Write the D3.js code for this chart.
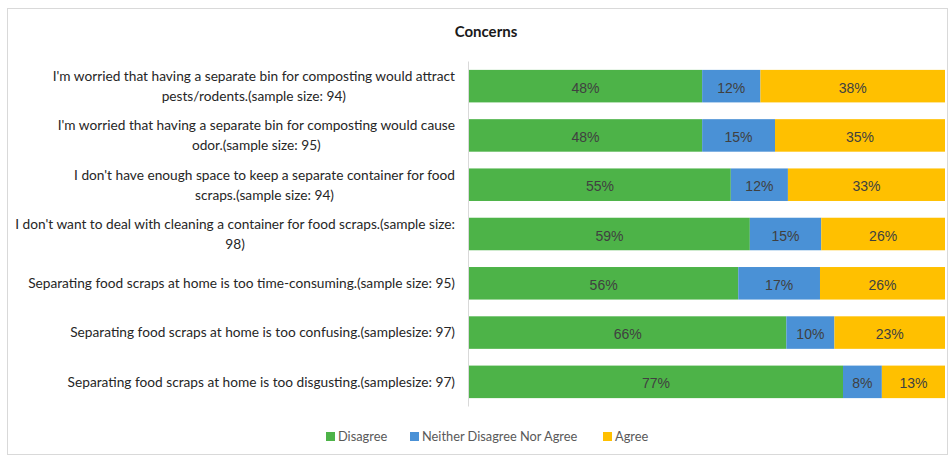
<!DOCTYPE html>
<html>
<head>
<meta charset="utf-8">
<script src="https://cdn.jsdelivr.net/npm/d3@7"></script>
<style>
  html, body { margin: 0; padding: 0; background: #fff; }
  svg { display: block; }
</style>
</head>
<body>
<svg id="chart" width="951" height="459"></svg>
<script>
// Survey statements (each entry is a list of wrapped lines)
const categories = [
  ["I'm worried that having a separate bin for composting would attract", "pests/rodents.(sample size: 94)"],
  ["I'm worried that having a separate bin for composting would cause", "odor.(sample size: 95)"],
  ["I don't have enough space to keep  a separate  container for food", "scraps.(sample size: 94)"],
  ["I don't want to deal with cleaning a container for food scraps.(sample size:", "98)"],
  ["Separating food scraps at home is too time-consuming.(sample size: 95)"],
  ["Separating food scraps at home is too confusing.(samplesize: 97)"],
  ["Separating food scraps at home is too disgusting.(samplesize: 97)"]
];
const seriesNames = ["Disagree", "Neither Disagree  Nor Agree", "Agree"];
const disagree = [48, 48, 55, 59, 56, 66, 77];
const neither  = [12, 15, 12, 15, 17, 10, 8];
const agree    = [38, 35, 33, 26, 26, 23, 13];
const colors = ["#4db348", "#4a91d6", "#ffc000"];

const svg = d3.select("#chart");

// chart frame
svg.append("rect")
  .attr("x", 7.5).attr("y", 8.5).attr("width", 940).attr("height", 446)
  .attr("fill", "#fff").attr("stroke", "#d9d9d9");

svg.append("text")
  .attr("x", 486).attr("y", 32).attr("dy", "0.35em")
  .attr("text-anchor", "middle")
  .attr("font-family", "Lato, 'Open Sans', sans-serif")
  .attr("font-weight", "bold").attr("font-size", 15)
  .attr("fill", "#1a1a1a")
  .text("Concerns");

const rows = categories.map((c, i) => ({
  idx: i, lines: c, d: disagree[i], n: neither[i], a: agree[i]
}));
const keys = ["d", "n", "a"];
const stacked = d3.stack().keys(keys).offset(d3.stackOffsetExpand)(rows);

const x = d3.scaleLinear().domain([0, 1]).range([469, 945]);
const y = d3.scaleBand().domain(d3.range(rows.length)).range([61.5, 406.5]).paddingInner(0.34).paddingOuter(0.17);

// category axis line
svg.append("line")
  .attr("x1", 468.5).attr("x2", 468.5)
  .attr("y1", y.range()[0]).attr("y2", y.range()[1])
  .attr("stroke", "#d9d9d9");

const groups = svg.selectAll("g.series").data(stacked).join("g")
  .attr("class", "series").attr("fill", (s, i) => colors[i]);

groups.selectAll("rect").data(s => s.map(p => ({ p, key: s.key }))).join("rect")
  .attr("x", d => x(d.p[0]))
  .attr("width", d => x(d.p[1]) - x(d.p[0]))
  .attr("y", d => y(d.p.data.idx))
  .attr("height", y.bandwidth());

groups.selectAll("text").data(s => s.map(p => ({ p, key: s.key }))).join("text")
  .attr("x", d => (x(d.p[0]) + x(d.p[1])) / 2)
  .attr("y", d => y(d.p.data.idx) + y.bandwidth() / 2 + 1.5)
  .attr("dy", "0.36em")
  .attr("text-anchor", "middle")
  .attr("font-family", "'Liberation Sans', Arial, sans-serif")
  .attr("font-size", 14)
  .attr("fill", "#404040")
  .text(d => d.p.data[d.key] + "%");

// wrapped category labels, right-aligned block with centred lines
const labelRight = 455;
const lineH = 20;
rows.forEach(r => {
  const cy = y(r.idx) + y.bandwidth() / 2;
  const t = svg.append("text")
    .attr("font-family", "Lato, 'Open Sans', sans-serif")
    .attr("font-size", 13.7)
    .attr("fill", "#262626")
    .attr("text-anchor", "middle");
  const first = t.append("tspan").text(r.lines[0]);
  const w = first.node().getComputedTextLength();
  const cx = labelRight - w / 2;
  const y0 = cy - (r.lines.length - 1) * lineH / 2;
  first.attr("x", cx).attr("y", y0).attr("dy", "0.35em");
  r.lines.slice(1).forEach((ln, k) => {
    t.append("tspan").attr("x", cx).attr("y", y0 + (k + 1) * lineH).attr("dy", "0.35em").text(ln);
  });
});

// legend
const legendX = [326, 410, 603];
const lg = svg.append("g");
seriesNames.forEach((name, i) => {
  lg.append("rect").attr("x", legendX[i]).attr("y", 432).attr("width", 9).attr("height", 9).attr("fill", colors[i]);
  lg.append("text")
    .attr("x", legendX[i] + 12).attr("y", 437).attr("dy", "0.35em")
    .attr("font-family", "Lato, 'Open Sans', sans-serif")
    .attr("font-size", 12.8)
    .attr("fill", "#595959")
    .text(name);
});
</script>
</body>
</html>
